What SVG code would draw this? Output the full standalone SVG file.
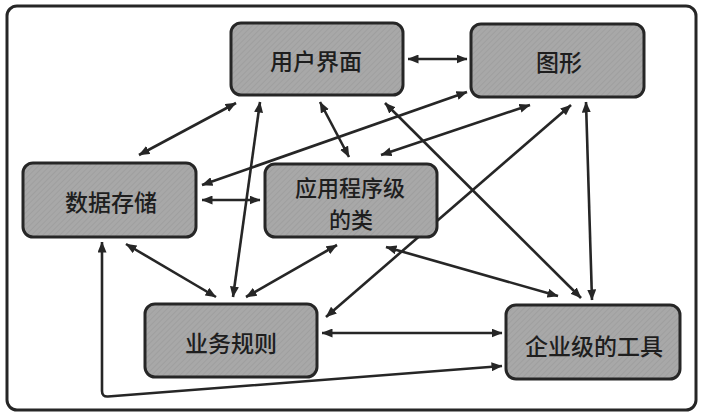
<svg xmlns="http://www.w3.org/2000/svg" width="704" height="417" viewBox="0 0 704 417">
<defs>
<marker id="ah" viewBox="0 0 11 9" refX="10.5" refY="4.5" markerWidth="11" markerHeight="9" markerUnits="userSpaceOnUse" orient="auto-start-reverse">
<path d="M0,0 L11,4.5 L0,9 Z" fill="#262626"/>
</marker>
<pattern id="tex" width="4" height="4" patternUnits="userSpaceOnUse" patternTransform="rotate(45)">
<rect width="4" height="4" fill="#a8a8a8"/>
<line x1="0" y1="0" x2="0" y2="4" stroke="#9c9c9c" stroke-width="1.5"/>
</pattern>
</defs>
<style>
.node rect{fill:url(#tex);stroke:#262626;stroke-width:3}
.node text{font-family:"Noto Sans CJK SC","Noto Sans",sans-serif;font-size:23px;font-weight:500;fill:#1e1e1e;text-anchor:middle;dominant-baseline:central}
.node text.two{font-size:22px}
.conn line,.conn path{stroke:#262626;stroke-width:2.6;fill:none;marker-start:url(#ah);marker-end:url(#ah)}
</style>
<rect x="7" y="6" width="689" height="404" rx="10" fill="#fff" stroke="#262626" stroke-width="3"/>
<g class="conn">
<line x1="408" y1="59" x2="467" y2="59" stroke-width="3.5"/>
<line x1="236" y1="103" x2="139" y2="155"/>
<line x1="260" y1="102" x2="233" y2="297"/>
<line x1="320" y1="102" x2="349" y2="157"/>
<line x1="385" y1="103" x2="581" y2="298"/>
<line x1="467" y1="92" x2="202" y2="185"/>
<line x1="530" y1="105" x2="381" y2="155"/>
<line x1="571" y1="105" x2="326" y2="317"/>
<line x1="586" y1="102" x2="592" y2="300"/>
<line x1="202" y1="200" x2="260" y2="200" stroke-width="3"/>
<line x1="126" y1="244" x2="216" y2="297"/>
<line x1="337" y1="245" x2="246" y2="297"/>
<line x1="386" y1="247" x2="558" y2="296"/>
<line x1="322" y1="333" x2="502" y2="333"/>
<path d="M102,242 L102,391 Q102,397 108,396.5 L502,366"/>
</g>
<g id="ui" class="node"><rect x="231" y="23" width="172" height="72" rx="10"/><text x="316" y="60">用户界面</text></g>
<g id="graphics" class="node"><rect x="471" y="24" width="173" height="73" rx="10"/><text x="559" y="61">图形</text></g>
<g id="datastore" class="node"><rect x="23" y="163" width="173" height="74" rx="10"/><text x="111" y="201">数据存储</text></g>
<g id="appclass" class="node"><rect x="265" y="164" width="172" height="73" rx="10"/><text class="two" x="350" y="186">应用程序级</text><text class="two" x="351" y="218">的类</text></g>
<g id="bizrules" class="node"><rect x="145" y="304" width="172" height="73" rx="10"/><text x="231" y="342">业务规则</text></g>
<g id="enttools" class="node"><rect x="506" y="305" width="174" height="74" rx="10"/><text x="594" y="345">企业级的工具</text></g>
</svg>
